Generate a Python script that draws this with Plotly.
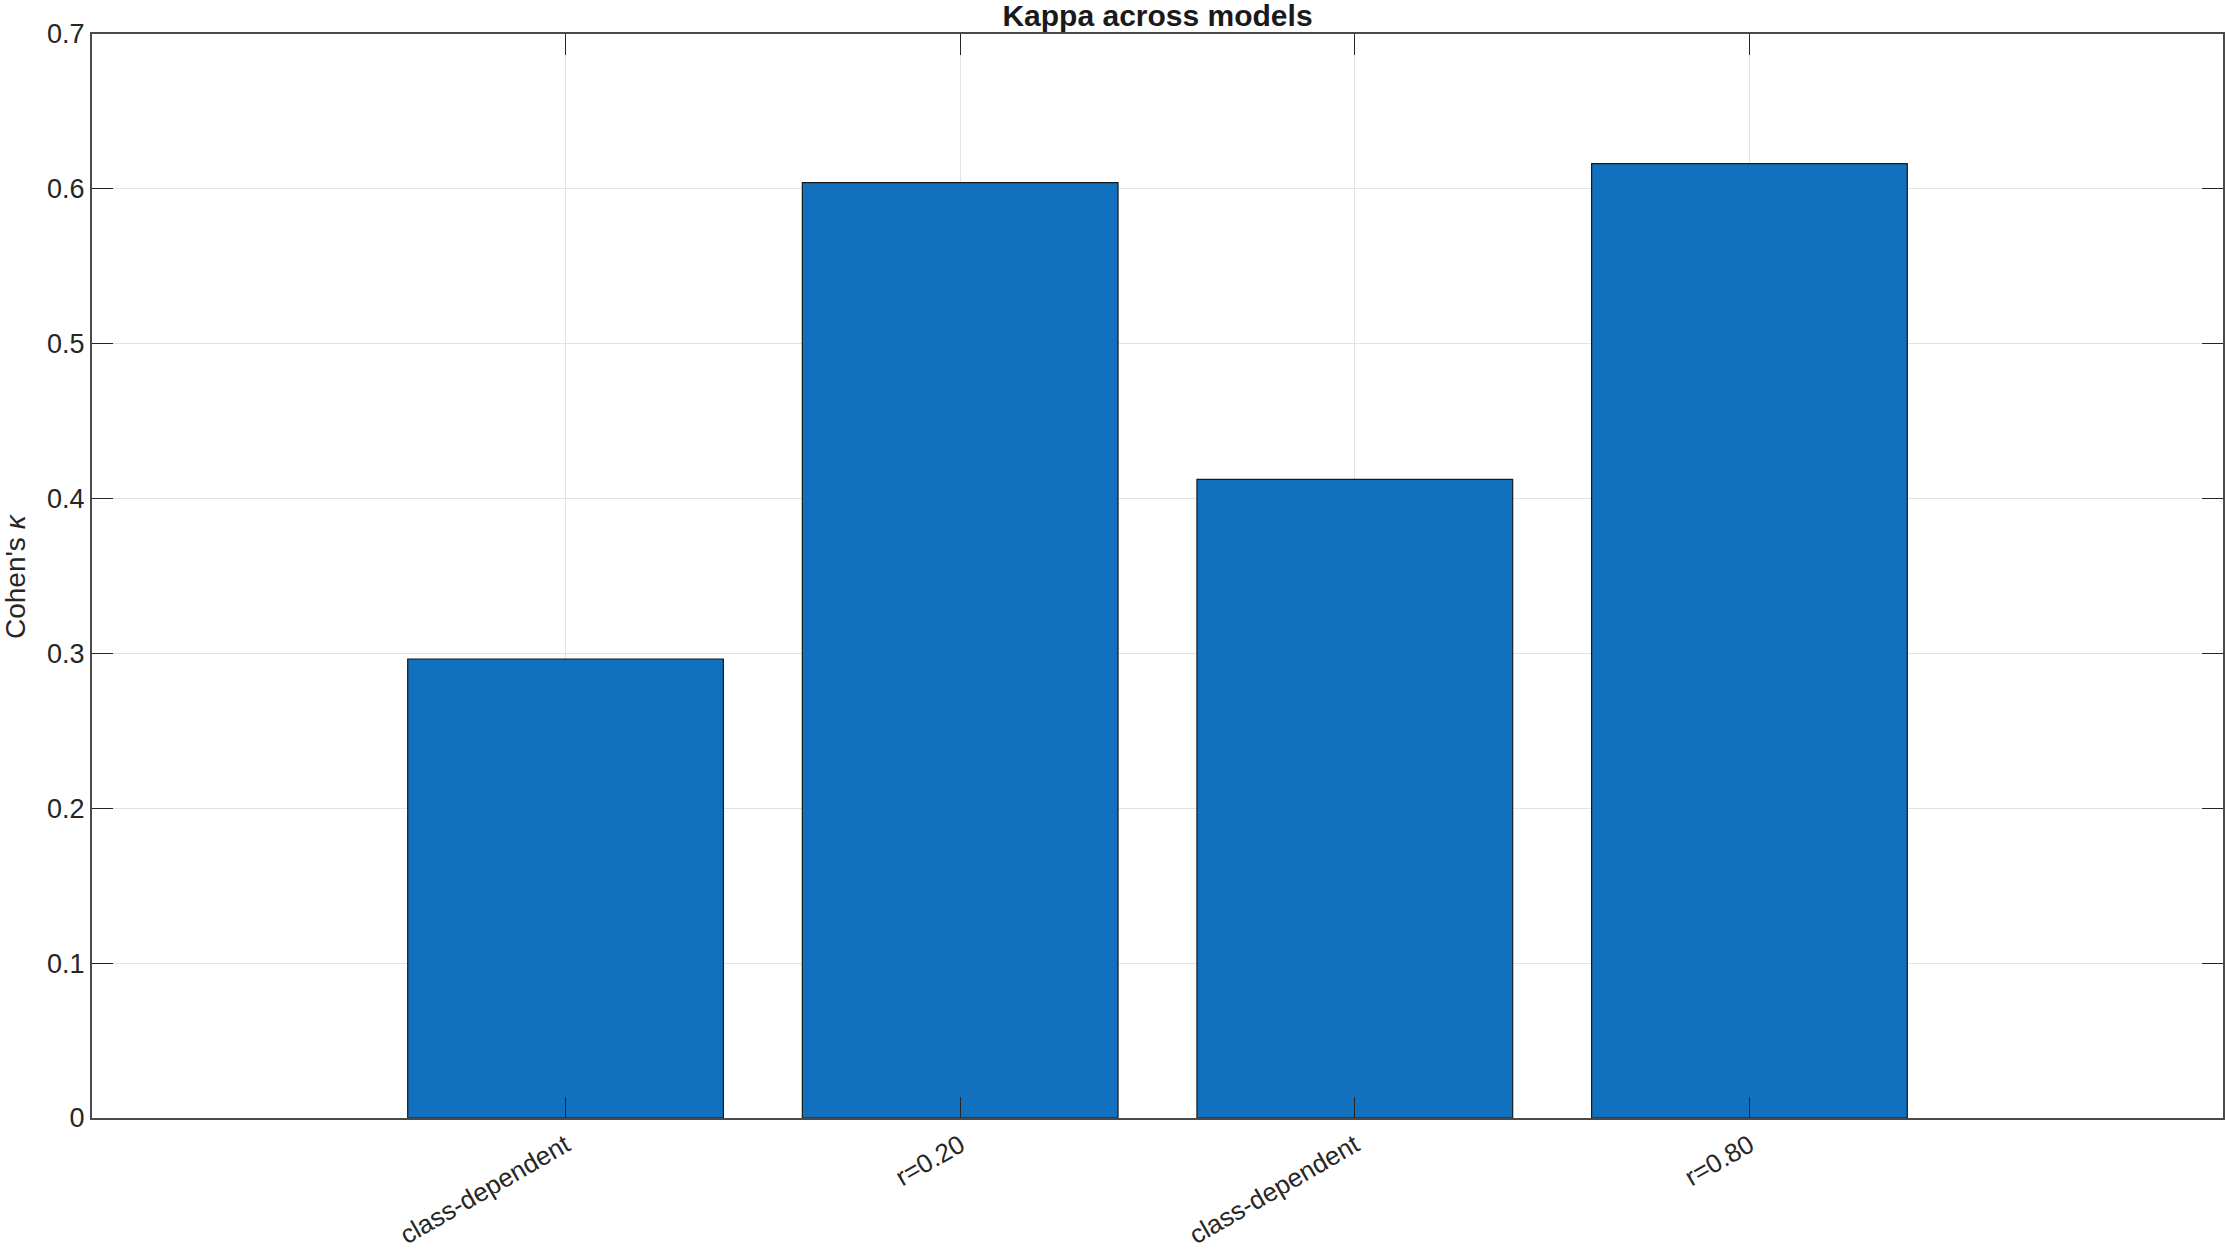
import plotly.graph_objects as go

categories = ["class-dependent", "r=0.20", "class-dependent", "r=0.80"]
kappa = [0.2964, 0.6040, 0.4124, 0.6163]
y_ticks = [0, 0.1, 0.2, 0.3, 0.4, 0.5, 0.6, 0.7]
y_tick_labels = ["0", "0.1", "0.2", "0.3", "0.4", "0.5", "0.6", "0.7"]

positions = list(range(len(categories)))

W, H = 2227, 1252
ml, mr, mt, mb = 92, 4, 34, 134
FONT = "Liberation Sans, Arial, Helvetica, sans-serif"
AX = "#262626"

fig = go.Figure()
fig.add_trace(go.Bar(
    x=positions, y=kappa, width=0.8,
    marker=dict(color="#1271BE", line=dict(color="#1a1a1a", width=1.2)),
    showlegend=False,
))

fig.update_layout(
    width=W, height=H, autosize=False,
    margin=dict(l=ml, r=mr, t=mt, b=mb, pad=0, autoexpand=False),
    paper_bgcolor="white", plot_bgcolor="white",
    font=dict(family=FONT, size=26, color=AX),
    title=dict(text="<b>Kappa across models</b>", x=(ml + (W - ml - mr) / 2) / W,
               xanchor="center", y=1 - 15 / H, yanchor="middle", yref="container",
               font=dict(family=FONT, size=30, color="#1a1a1a")),
    bargap=0.2,
)

fig.update_xaxes(
    range=[-1.2, 4.2], tickvals=positions, ticktext=categories, tickangle=-30,
    showline=True, linecolor="#4a4a4a", linewidth=2, mirror="ticks",
    ticks="inside", ticklen=21, tickcolor=AX, tickwidth=1, automargin=False,
    showgrid=True, gridcolor="#e3e3e3", gridwidth=1, zeroline=False,
    tickfont=dict(size=26, family=FONT, color=AX),
)
fig.update_yaxes(
    range=[0, 0.7], tickvals=y_ticks, ticktext=y_tick_labels,
    showline=True, linecolor="#4a4a4a", linewidth=2, mirror="ticks",
    ticks="inside", ticklen=21, tickcolor=AX, tickwidth=1, automargin=False,
    showgrid=True, gridcolor="#e3e3e3", gridwidth=1, zeroline=False,
    tickfont=dict(size=27, family=FONT, color=AX),
)

fig.add_annotation(
    text="Cohen's <i>κ</i>", xref="paper", yref="paper",
    x=(15 - ml) / (W - ml - mr), y=0.5, xanchor="center", yanchor="middle",
    textangle=-90, showarrow=False, font=dict(family=FONT, size=28, color=AX),
)

fig.write_html(
    "out.html",
    config={"displayModeBar": False},
    post_script="document.body.style.margin='0';document.body.style.overflow='hidden';",
)
